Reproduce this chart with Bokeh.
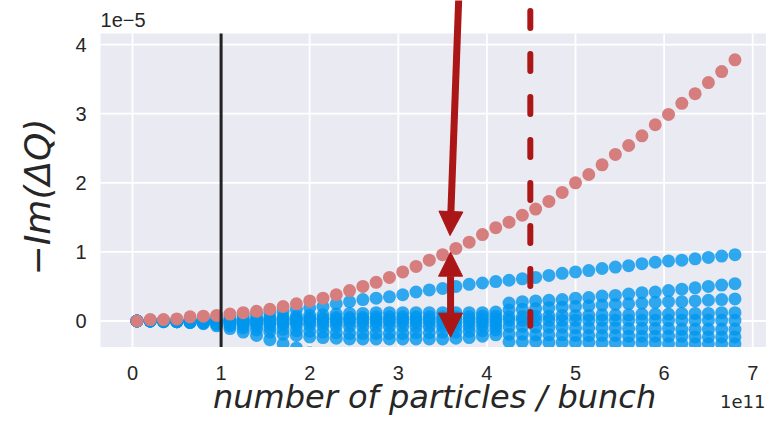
import numpy as np
from bokeh.plotting import figure
from bokeh.models import Range1d, LinearAxis, FixedTicker, Arrow, NormalHead
from bokeh.core.properties import value
from bokeh.embed import file_html
from bokeh.resources import INLINE

nan = float("nan")

# ---------------- data (x in units of 1e11, y in units of 1e-5) ----------------
n_particles = [0.05, 0.20, 0.35, 0.50, 0.65, 0.80, 0.95, 1.10, 1.25, 1.40,
               1.55, 1.70, 1.85, 2.00, 2.15, 2.30, 2.45, 2.60, 2.75, 2.90,
               3.05, 3.20, 3.35, 3.50, 3.65, 3.80, 3.95, 4.10, 4.25, 4.40,
               4.55, 4.70, 4.85, 5.00, 5.15, 5.30, 5.45, 5.60, 5.75, 5.90,
               6.05, 6.20, 6.35, 6.50, 6.65, 6.80]

growth_red = [0.00, 0.02, 0.02, 0.03, 0.06, 0.07, 0.08, 0.10, 0.12, 0.14,
              0.17, 0.21, 0.25, 0.29, 0.33, 0.38, 0.44, 0.50, 0.56, 0.63,
              0.71, 0.79, 0.88, 0.96, 1.05, 1.14, 1.25, 1.35, 1.43, 1.53,
              1.62, 1.73, 1.86, 2.00, 2.12, 2.26, 2.41, 2.54, 2.68, 2.84,
              2.99, 3.15, 3.29, 3.45, 3.61, 3.78]

mode_1 = [0.00, 0.01, 0.01, 0.02, 0.03, 0.04, 0.05, 0.06, 0.08, 0.10,
          0.12, 0.14, 0.17, 0.19, 0.21, 0.25, 0.28, 0.31, 0.33, 0.35,
          0.38, 0.42, 0.45, 0.47, 0.50, 0.53, 0.55, 0.57, 0.59, 0.61,
          0.63, 0.66, 0.69, 0.71, 0.73, 0.76, 0.78, 0.80, 0.83, 0.85,
          0.87, 0.88, 0.90, 0.92, 0.94, 0.96]
mode_2 = [0.00, 0.00, 0.00, 0.00, 0.00, 0.01, 0.01, 0.02, 0.03, 0.04,
          0.05, 0.06, 0.07, 0.08, 0.09, 0.10, 0.11, 0.11, 0.12, 0.12,
          0.12, 0.12, 0.12, 0.12, 0.12, 0.12, 0.12, 0.13, 0.26, 0.28,
          0.29, 0.30, 0.31, 0.33, 0.34, 0.36, 0.37, 0.39, 0.41, 0.42,
          0.44, 0.46, 0.48, 0.50, 0.52, 0.54]
mode_3 = [0.00, 0.00, 0.00, 0.00, 0.00, 0.00, 0.00, 0.01, 0.01, 0.02,
          0.02, 0.03, 0.03, 0.04, 0.04, 0.05, 0.05, 0.05, 0.06, 0.06,
          0.06, 0.06, 0.06, 0.06, 0.06, 0.06, 0.07, 0.07, 0.16, 0.17,
          0.18, 0.19, 0.20, 0.21, 0.22, 0.23, 0.24, 0.25, 0.26, 0.27,
          0.28, 0.28, 0.29, 0.30, 0.31, 0.32]
mode_4 = [0.00, 0.00, 0.00, 0.00, 0.00, 0.00, 0.00, 0.00, 0.00, 0.00,
          0.01, 0.01, 0.02, 0.02, 0.02, 0.02, 0.02, 0.02, 0.02, 0.02,
          0.02, 0.02, 0.02, 0.02, 0.02, 0.02, 0.02, 0.02, 0.06, 0.06,
          0.07, 0.07, 0.08, 0.08, 0.08, 0.09, 0.09, 0.09, 0.10, 0.10,
          0.10, 0.11, 0.11, 0.11, 0.12, 0.12]
mode_5 = [0.00, 0.00, 0.00, -0.01, -0.01, -0.01, -0.02, -0.02, -0.02, -0.02,
          -0.02, -0.02, -0.02, -0.02, -0.02, -0.02, -0.02, -0.02, -0.02, -0.02,
          -0.02, -0.02, -0.02, -0.02, -0.02, -0.02, -0.02, -0.02, 0.01, 0.01,
          0.01, 0.01, 0.01, 0.01, 0.01, 0.01, 0.01, 0.01, 0.01, 0.01,
          0.01, 0.01, 0.01, 0.01, 0.01, 0.01]
mode_6 = [0.00, 0.00, -0.01, -0.01, -0.02, -0.02, -0.03, -0.03, -0.04, -0.04,
          -0.05, -0.05, -0.06, -0.06, -0.07, -0.07, -0.08, -0.08, -0.08, -0.08,
          -0.08, -0.08, -0.08, -0.08, -0.08, -0.08, -0.07, -0.07, -0.08, -0.08,
          -0.09, -0.09, -0.09, -0.10, -0.10, -0.10, -0.10, -0.11, -0.11, -0.11,
          -0.11, -0.12, -0.12, -0.12, -0.12, -0.12]
mode_7 = [0.00, 0.00, 0.00, -0.01, -0.02, -0.04, -0.07, -0.11, -0.16, -0.21,
          -0.27, -0.33, -0.39, -0.46, nan, nan, nan, nan, nan, nan,
          nan, nan, nan, nan, nan, nan, nan, nan, nan, nan,
          nan, nan, nan, nan, nan, nan, nan, nan, nan, nan,
          nan, nan, nan, nan, nan, nan]
mode_8 = [0.00, 0.00, -0.01, -0.01, -0.02, -0.03, -0.05, -0.07, -0.10, -0.13,
          -0.16, -0.19, -0.21, -0.23, -0.24, -0.25, -0.26, -0.26, -0.26, -0.26,
          -0.26, -0.26, -0.26, -0.26, -0.25, -0.24, -0.22, -0.20, -0.30, -0.30,
          -0.30, -0.31, -0.31, -0.31, -0.31, -0.32, -0.32, -0.32, -0.32, -0.32,
          -0.33, -0.33, -0.33, -0.33, -0.33, -0.33]
mode_9 = [0.00, 0.00, 0.00, -0.01, -0.01, -0.02, -0.03, -0.04, -0.06, -0.08,
          -0.10, -0.12, -0.14, -0.15, -0.16, -0.17, -0.18, -0.18, -0.18, -0.18,
          -0.18, -0.17, -0.17, -0.16, -0.16, -0.15, -0.14, -0.13, -0.19, -0.19,
          -0.20, -0.20, -0.20, -0.21, -0.21, -0.21, -0.21, -0.22, -0.22, -0.22,
          -0.22, -0.22, -0.23, -0.23, -0.23, -0.23]

blue_modes = [mode_1, mode_2, mode_3, mode_4, mode_5, mode_6, mode_7, mode_8, mode_9]

x_ticks = [0, 1, 2, 3, 4, 5, 6, 7]
x_tick_labels = ["0", "1", "2", "3", "4", "5", "6", "7"]
y_ticks = [0, 1, 2, 3, 4]
y_tick_labels = ["0", "1", "2", "3", "4"]
x_offset_text = "1e11"
y_offset_text = "1e\u22125"
x_label = "number of particles / bunch"
y_label = "\u2212Im(\u0394Q)"
threshold_x = 1.0        # black reference line
limit_x = 4.49           # dashed red line

# ---------------- layout ----------------
W, H = 766, 417
X_LO, X_HI = -1.4898, 7.1558     # full canvas in data units
Y_LO, Y_HI = -1.3965, 4.638
AX_L, AX_R = -0.361, 7.18        # grey axes area
AX_B, AX_T = -0.375, 4.16

DARK_RED = "#ab1616"
TEXT = "#262626"

p = figure(width=W, height=H, output_backend="svg", toolbar_location=None,
           x_range=Range1d(X_LO, X_HI), y_range=Range1d(Y_LO, Y_HI),
           x_axis_type=None, y_axis_type=None, min_border=0)
p.min_border_left = p.min_border_right = p.min_border_top = p.min_border_bottom = 0
p.outline_line_color = None
p.background_fill_color = "white"
p.border_fill_color = "white"

# grey axes background
p.quad(left=[AX_L], right=[AX_R], bottom=[AX_B], top=[AX_T],
       fill_color="#EAEAF2", line_color=None)
# white grid
p.segment(x0=x_ticks, x1=x_ticks, y0=[AX_B] * len(x_ticks), y1=[AX_T] * len(x_ticks),
          line_color="white", line_width=1.8)
p.segment(x0=[AX_L] * len(y_ticks), x1=[AX_R] * len(y_ticks), y0=y_ticks, y1=y_ticks,
          line_color="white", line_width=1.8)

# blue modes
for m in blue_modes:
    p.scatter(x=n_particles, y=np.array(m, dtype=float), size=13, marker="circle",
              fill_color="#0096ee", fill_alpha=0.8, line_color=None)
# red mode
p.scatter(x=n_particles, y=growth_red, size=13, marker="circle",
          fill_color="#d67e7e", line_color=None)

# white cover below the axes area (emulates clipping)
p.quad(left=[X_LO], right=[X_HI], bottom=[Y_LO], top=[AX_B],
       fill_color="white", line_color=None)

# reference lines
p.segment(x0=[threshold_x], x1=[threshold_x], y0=[AX_B], y1=[AX_T],
          line_color="#222222", line_width=3)
p.segment(x0=[limit_x], x1=[limit_x], y0=[4.486], y1=[-0.07],
          line_color=DARK_RED, line_width=6, line_dash="17 26", line_cap="round")

# arrows
p.add_layout(Arrow(end=NormalHead(size=24, fill_color=DARK_RED, line_color=DARK_RED),
                   x_start=3.683, y_start=4.70, x_end=3.584, y_end=1.237,
                   line_color=DARK_RED, line_width=7))
p.add_layout(Arrow(start=NormalHead(size=24, fill_color=DARK_RED, line_color=DARK_RED),
                   end=NormalHead(size=24, fill_color=DARK_RED, line_color=DARK_RED),
                   x_start=3.59, y_start=0.996, x_end=3.59, y_end=-0.234,
                   line_color=DARK_RED, line_width=7))

# axes
xaxis = LinearAxis(fixed_location=AX_B, bounds=(AX_L, AX_R),
                   ticker=FixedTicker(ticks=x_ticks))
xaxis.major_label_overrides = {t: s for t, s in zip(x_ticks, x_tick_labels)}
yaxis = LinearAxis(fixed_location=AX_L, bounds=(AX_B - 0.2, AX_T),
                   ticker=FixedTicker(ticks=y_ticks))
yaxis.major_label_overrides = {t: s for t, s in zip(y_ticks, y_tick_labels)}
yaxis.axis_label = y_label
for ax in (xaxis, yaxis):
    ax.axis_line_color = None
    ax.major_tick_line_color = None
    ax.minor_tick_line_color = None
    ax.major_tick_out = 0
    ax.major_tick_in = 0
    ax.major_label_text_font = "Liberation Sans"
    ax.major_label_text_font_size = "20px"
    ax.major_label_text_color = TEXT
    ax.axis_label_text_font = "DejaVu Sans"
    ax.axis_label_text_font_style = "italic"
    ax.axis_label_text_color = TEXT
xaxis.major_label_standoff = 19
yaxis.major_label_standoff = 14
yaxis.axis_label_text_font_size = "36px"
yaxis.axis_label_standoff = 14
p.add_layout(xaxis, "below")
p.add_layout(yaxis, "left")

# x axis title (placed as text so it fits inside the canvas)
p.text(x=[(AX_L + AX_R) / 2], y=[-1.3748], text=[x_label],
       text_font=value("DejaVu Sans"), text_font_style="italic", text_font_size="32px",
       text_color=TEXT, text_align="center", text_baseline="bottom")

# offset texts
p.text(x=[AX_L], y=[4.363], text=[y_offset_text], text_font=value("Liberation Sans"),
       text_font_size="20px", text_color=TEXT, text_align="left", text_baseline="middle")
p.text(x=[7.144], y=[-1.172], text=[x_offset_text], text_font=value("DejaVu Sans"),
       text_font_size="18px", text_color=TEXT, text_align="right", text_baseline="middle")

open("out.html", "w").write(file_html(p, INLINE))
